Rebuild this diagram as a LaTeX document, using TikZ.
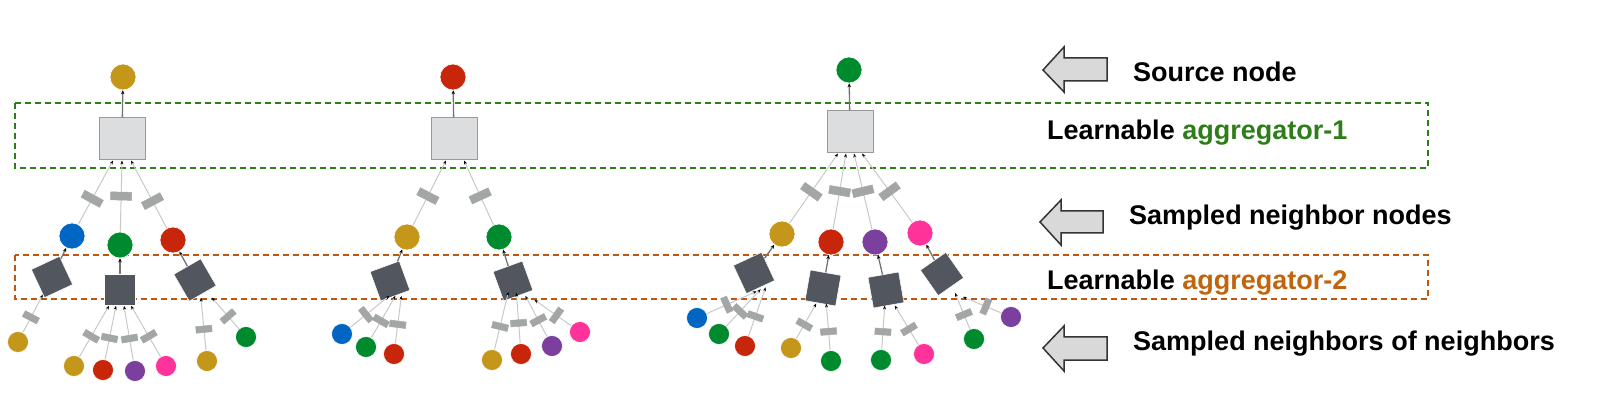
\documentclass[tikz,border=0pt]{standalone}
\usepackage{fontspec}
\setmainfont{Liberation Sans}
\usetikzlibrary{arrows.meta}
\definecolor{cgold}{HTML}{C4961A}
\definecolor{cred}{HTML}{C8260B}
\definecolor{cgreen}{HTML}{008A2E}
\definecolor{cblue}{HTML}{0066C4}
\definecolor{cpurple}{HTML}{7B3F9E}
\definecolor{cpink}{HTML}{FF3399}
\definecolor{cdark}{HTML}{52565E}
\definecolor{cagg}{HTML}{DCDDDF}
\definecolor{cbox1}{HTML}{2E7D1A}
\definecolor{cbox2}{HTML}{C0560E}
\definecolor{ctxt2}{HTML}{C0640E}
\definecolor{crect}{HTML}{A3A6A6}
\definecolor{cline}{HTML}{C8C8C8}
\definecolor{carrow}{HTML}{D9D9D9}
\tikzset{
 big/.style={circle,minimum size=26pt,inner sep=0pt,draw=white,line width=0.6pt,fill=#1},
 leaf/.style={circle,minimum size=21pt,inner sep=0pt,draw=white,line width=0.6pt,fill=#1},
 agg/.style={rectangle,minimum width=46pt,minimum height=42pt,fill=cagg,draw=gray!80,line width=1pt},
 sq/.style={rectangle,minimum size=31pt,fill=cdark,draw=white,line width=0.5pt,rotate=#1},
 conn/.style={draw=cline,line width=1pt,-{Stealth[length=4pt,width=3pt,black]}},
 up/.style={draw=gray!90!black,line width=1.3pt,-{Stealth[length=4pt,width=3.5pt,black]}},
 rA/.style={rectangle,sloped,minimum height=21pt,minimum width=8pt,inner sep=0pt,fill=crect,draw=gray!70,line width=0.5pt,pos=#1},
 rA/.default=0.45,
 rB/.style={rectangle,sloped,minimum height=16pt,minimum width=6.5pt,inner sep=0pt,fill=crect,draw=gray!70,line width=0.5pt,pos=#1},
 rB/.default=0.4,
 lbl/.style={anchor=west,font=\fontsize{27}{31}\selectfont\bfseries,inner sep=0pt},
 blockarrow/.style={fill=carrow,draw=black!80,line width=1.5pt,line join=miter}
}
\begin{document}
\begin{tikzpicture}[x=1pt,y=-1pt]
\useasboundingbox (0,0) rectangle (1600,411);
% dashed boxes
\draw[cbox1,dashed,dash pattern=on 6pt off 4pt,line width=1.3pt] (15,103) rectangle (1428,168);
\draw[cbox2,dashed,dash pattern=on 6pt off 4pt,line width=1.2pt] (15,255) rectangle (1428,299);

% ===== Tree 1 =====
\node[big=cgold] (s1) at (123,77) {};
\node[agg] (a1) at (122,139) {};
\node[big=cblue] (n11) at (72,236) {};
\node[big=cgreen] (n12) at (120,245) {};
\node[big=cred] (n13) at (173,240) {};
\node[sq=25] (q11) at (52,277) {};
\node[sq=0] (q12) at (120,290) {};
\node[sq=30] (q13) at (195,280) {};
\node[leaf=cgold] (l111) at (18,342) {};
\node[leaf=cgold] (l121) at (74,366) {};
\node[leaf=cred] (l122) at (103,370) {};
\node[leaf=cpurple] (l123) at (135,371) {};
\node[leaf=cpink] (l124) at (166,366) {};
\node[leaf=cgold] (l131) at (207,361) {};
\node[leaf=cgreen] (l132) at (246,337) {};
\draw[up] (a1) -- (s1);
\draw[conn] (n11) -- node[rA=0.4] (e111) {} ([xshift=-9pt]a1.south);
\draw[conn] (n12) -- node[rA=0.5] (e112) {} (a1.south);
\draw[conn] (n13) -- node[rA=0.4] (e113) {} ([xshift=9pt]a1.south);
\draw[up] (q11) -- (n11);
\draw[up] (q12) -- (n12);
\draw[up] (q13) -- (n13);
\draw[conn] (l111) -- node[rB] (e121) {} (q11);
\draw[conn] (l121) -- node[rB] (e122) {} ([xshift=-11pt]q12.south);
\draw[conn] (l122) -- node[rB] (e123) {} ([xshift=-4pt]q12.south);
\draw[conn] (l123) -- node[rB] (e124) {} ([xshift=4pt]q12.south);
\draw[conn] (l124) -- node[rB] (e125) {} ([xshift=11pt]q12.south);
\draw[conn] (l131) -- node[rB=0.4] (e126) {} ([xshift=-2pt,yshift=-4pt]q13.south);
\draw[conn] (l132) -- node[rB] (e127) {} ([xshift=9pt,yshift=-4pt]q13.south);

% ===== Tree 2 =====
\node[big=cred] (s2) at (453,77) {};
\node[agg] (a2) at (454,139) {};
\node[big=cgold] (n21) at (407,237) {};
\node[big=cgreen] (n22) at (499,237) {};
\node[sq=20] (q21) at (390,281) {};
\node[sq=20] (q22) at (513,281) {};
\node[leaf=cblue] (l211) at (342,334) {};
\node[leaf=cgreen] (l212) at (366,347) {};
\node[leaf=cred] (l213) at (394,354) {};
\node[leaf=cgold] (l221) at (492,360) {};
\node[leaf=cred] (l222) at (521,354) {};
\node[leaf=cpurple] (l223) at (552,346) {};
\node[leaf=cpink] (l224) at (580,332) {};
\draw[up] (a2) -- (s2);
\draw[conn] (n21) -- node[rA] (e211) {} ([xshift=-8pt]a2.south);
\draw[conn] (n22) -- node[rA] (e212) {} ([xshift=10pt]a2.south);
\draw[up] (q21) -- (n21);
\draw[up] (q22) -- (n22);
\draw[conn] (l211) -- node[rB] (e221) {} ([xshift=-6pt]q21.south);
\draw[conn] (l212) -- node[rB] (e222) {} ([xshift=0pt]q21.south);
\draw[conn] (l213) -- node[rB] (e223) {} ([xshift=6pt]q21.south);
\draw[conn] (l221) -- node[rB] (e224) {} ([xshift=-10pt,yshift=4pt]q22.south);
\draw[conn] (l222) -- node[rB] (e225) {} ([xshift=-2pt,yshift=3pt]q22.south);
\draw[conn] (l223) -- node[rB] (e226) {} ([xshift=7pt,yshift=0pt]q22.south);
\draw[conn] (l224) -- node[rB] (e227) {} ([xshift=16pt,yshift=-4pt]q22.south);

% ===== Tree 3 =====
\node[big=cgreen] (s3) at (849,70) {};
\node[agg] (a3) at (850,132) {};
\node[big=cgold] (n31) at (782,234) {};
\node[big=cred] (n32) at (831,242) {};
\node[big=cpurple] (n33) at (875,242) {};
\node[big=cpink] (n34) at (920,233) {};
\node[sq=25] (q31) at (754,273) {};
\node[sq=-10] (q32) at (823,288) {};
\node[sq=10] (q33) at (886,290) {};
\node[sq=35] (q34) at (942,274) {};
\node[leaf=cblue] (l311) at (697,318) {};
\node[leaf=cgreen] (l312) at (719,334) {};
\node[leaf=cred] (l313) at (745,346) {};
\node[leaf=cgold] (l321) at (791,348) {};
\node[leaf=cgreen] (l322) at (831,361) {};
\node[leaf=cgreen] (l331) at (881,360) {};
\node[leaf=cpink] (l332) at (924,354) {};
\node[leaf=cgreen] (l341) at (974,339) {};
\node[leaf=cpurple] (l342) at (1011,317) {};
\draw[up] (a3) -- (s3);
\draw[conn] (n31) -- node[rA] (e311) {} ([xshift=-12pt]a3.south);
\draw[conn] (n32) -- node[rA=0.5] (e312) {} ([xshift=-4pt]a3.south);
\draw[conn] (n33) -- node[rA=0.5] (e313) {} ([xshift=4pt]a3.south);
\draw[conn] (n34) -- node[rA] (e314) {} ([xshift=12pt]a3.south);
\draw[up] (q31) -- (n31);
\draw[up] (q32) -- (n32);
\draw[up] (q33) -- (n33);
\draw[up] (q34) -- (n34);
\draw[conn] (l311) -- node[rB] (e321) {} ([xshift=-4pt,yshift=-4pt]q31.south);
\draw[conn] (l312) -- node[rB] (e322) {} ([xshift=0pt,yshift=-2pt]q31.south);
\draw[conn] (l313) -- node[rB] (e323) {} ([xshift=5pt,yshift=0pt]q31.south);
\draw[conn] (l321) -- node[rB] (e324) {} ([xshift=-4pt]q32.south);
\draw[conn] (l322) -- node[rB] (e325) {} ([xshift=6pt]q32.south);
\draw[conn] (l331) -- node[rB] (e326) {} ([xshift=-4pt]q33.south);
\draw[conn] (l332) -- node[rB] (e327) {} ([xshift=6pt]q33.south);
\draw[conn] (l341) -- node[rB] (e328) {} ([xshift=4pt,yshift=-6pt]q34.south);
\draw[conn] (l342) -- node[rB] (e329) {} ([xshift=12pt,yshift=-10pt]q34.south);

% ===== Legend =====
\draw[blockarrow] (1043,70) -- (1064,47) -- (1064,58) -- (1107,58) -- (1107,81) -- (1064,81) -- (1064,92) -- cycle;
\draw[blockarrow] (1040,222) -- (1061,200) -- (1061,211) -- (1103,211) -- (1103,233) -- (1061,233) -- (1061,245) -- cycle;
\draw[blockarrow] (1043,348) -- (1064,326) -- (1064,337) -- (1107,337) -- (1107,360) -- (1064,360) -- (1064,371) -- cycle;
\node[lbl] (t1) at (1133,72) {Source node};
\node[lbl] (t2) at (1047,133) {Learnable \textcolor{cbox1}{aggregator-1}};
\node[lbl] (t3) at (1129,218) {Sampled neighbor nodes};
\node[lbl] (t4) at (1047,283) {Learnable \textcolor{ctxt2}{aggregator-2}};
\node[lbl] (t5) at (1133,344) {Sampled neighbors of neighbors};
\end{tikzpicture}
\end{document}
